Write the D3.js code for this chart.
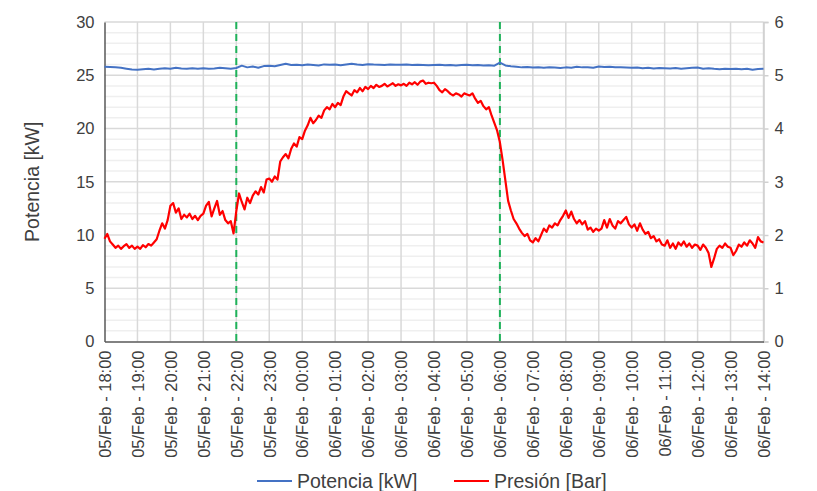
<!DOCTYPE html>
<html>
<head>
<meta charset="utf-8">
<script src="https://cdn.jsdelivr.net/npm/d3@7"></script>
<style>
  body { margin: 0; background: #fff; }
  svg text { font-family: "Liberation Sans", Arial, sans-serif; fill: #404040; }
</style>
</head>
<body>
<svg id="chart"></svg>
<script>
// time window: 05/Feb 18:00 -> 06/Feb 14:00
const startTime = new Date(2021, 1, 5, 18, 0);
const endTime = new Date(2021, 1, 6, 14, 0);
const markerTimes = [new Date(2021, 1, 5, 22, 0), new Date(2021, 1, 6, 6, 0)];

const kwTicks = [0, 5, 10, 15, 20, 25, 30];
const barTicks = [0, 1, 2, 3, 4, 5, 6];

// Potencia [kW], one reading every 10 min
const potencia = [
  25.80, 25.78, 25.74, 25.70, 25.62, 25.55,
  25.52, 25.56, 25.60, 25.55, 25.62, 25.66,
  25.62, 25.70, 25.64, 25.60, 25.66, 25.62,
  25.66, 25.60, 25.64, 25.70, 25.66, 25.62,
  25.68, 25.90, 25.74, 25.82, 25.70, 25.86,
  25.90, 25.84, 25.96, 26.08, 25.96, 25.98,
  25.94, 26.00, 25.96, 25.92, 26.02, 25.98,
  26.00, 25.94, 26.02, 26.08, 26.00, 25.96,
  26.04, 26.00, 25.98, 25.96, 26.02, 25.98,
  25.98, 26.00, 25.96, 25.98, 25.96, 25.94,
  25.96, 25.98, 25.94, 25.96, 25.92, 25.96,
  25.98, 25.94, 25.96, 25.92, 25.94, 25.90,
  26.18, 25.92, 25.84, 25.80, 25.74, 25.78,
  25.72, 25.74, 25.70, 25.76, 25.72, 25.68,
  25.74, 25.70, 25.80, 25.74, 25.76, 25.70,
  25.82, 25.78, 25.80, 25.76, 25.74, 25.72,
  25.70, 25.72, 25.66, 25.70, 25.64, 25.68,
  25.66, 25.64, 25.68, 25.62, 25.66, 25.70,
  25.72, 25.62, 25.66, 25.60, 25.56, 25.62,
  25.58, 25.62, 25.56, 25.60, 25.52, 25.58,
  25.62
];

// Presión [Bar], one reading every 5 min
const presion = [
  1.93, 2.02, 1.88, 1.82, 1.76, 1.80, 1.74, 1.79, 1.83, 1.76, 1.80, 1.74,
  1.78, 1.74, 1.81, 1.77, 1.83, 1.80, 1.86, 1.92, 2.08, 2.22, 2.12, 2.28,
  2.55, 2.60, 2.42, 2.50, 2.30, 2.38, 2.33, 2.40, 2.30, 2.36, 2.28, 2.36,
  2.40, 2.55, 2.62, 2.35, 2.50, 2.64, 2.38, 2.45, 2.28, 2.22, 2.26, 2.03,
  2.45, 2.78, 2.62, 2.48, 2.70, 2.60, 2.74, 2.82, 2.76, 2.90, 2.80, 3.04,
  3.06, 3.00, 3.10, 3.04, 3.38, 3.46, 3.52, 3.44, 3.62, 3.72, 3.66, 3.84,
  3.80, 3.96, 4.06, 4.20, 4.10, 4.16, 4.24, 4.20, 4.34, 4.40, 4.36, 4.46,
  4.40, 4.48, 4.44, 4.60, 4.70, 4.66, 4.62, 4.72, 4.68, 4.76, 4.70, 4.78,
  4.74, 4.80, 4.76, 4.82, 4.78, 4.80, 4.84, 4.79, 4.82, 4.85, 4.80, 4.83,
  4.81, 4.84, 4.80, 4.86, 4.83, 4.87, 4.82, 4.88, 4.90, 4.84, 4.86, 4.85,
  4.86, 4.80, 4.72, 4.68, 4.74, 4.70, 4.65, 4.62, 4.66, 4.64, 4.60, 4.66,
  4.64, 4.62, 4.66, 4.56, 4.48, 4.52, 4.42, 4.36, 4.40, 4.24, 4.10, 3.96,
  3.74, 3.40, 3.02, 2.64, 2.46, 2.30, 2.22, 2.12, 2.04, 1.98, 2.02, 1.90,
  1.86, 1.94, 1.88, 2.00, 2.12, 2.06, 2.18, 2.14, 2.22, 2.18, 2.28, 2.36,
  2.46, 2.32, 2.44, 2.30, 2.22, 2.28, 2.20, 2.26, 2.10, 2.14, 2.06, 2.12,
  2.08, 2.12, 2.28, 2.14, 2.30, 2.18, 2.12, 2.26, 2.22, 2.28, 2.34, 2.20,
  2.14, 2.20, 2.08, 2.22, 2.10, 2.02, 2.06, 1.94, 1.98, 1.88, 1.92, 1.82,
  1.80, 1.90, 1.76, 1.84, 1.74, 1.86, 1.80, 1.88, 1.78, 1.84, 1.76, 1.82,
  1.80, 1.72, 1.82, 1.76, 1.66, 1.40, 1.56, 1.74, 1.80, 1.76, 1.84, 1.78,
  1.76, 1.62, 1.70, 1.82, 1.78, 1.86, 1.80, 1.90, 1.84, 1.76, 1.96, 1.88,
  1.86
];

const width = 817, height = 491;
const margin = { top: 22, right: 53.5, bottom: 149.5, left: 104.5 };

const svg = d3.select('#chart').attr('width', width).attr('height', height);

const x = d3.scaleTime()
  .domain([startTime, endTime])
  .range([margin.left, width - margin.right]);

const yKw = d3.scaleLinear()
  .domain([0, 30])
  .range([height - margin.bottom, margin.top]);

const yBar = d3.scaleLinear()
  .domain([0, 6])
  .range([height - margin.bottom, margin.top]);

const hours = d3.timeHour.range(startTime, d3.timeMinute.offset(endTime, 1));
const fmt = d3.timeFormat('%d/%b - %H:%M');

// grid
svg.append('g')
  .selectAll('line')
  .data(d3.range(0, 31).filter(v => v % 5 !== 0))
  .join('line')
  .attr('x1', margin.left).attr('x2', width - margin.right)
  .attr('y1', d => yKw(d)).attr('y2', d => yKw(d))
  .attr('stroke', '#efefef').attr('stroke-width', 1.5);

svg.append('g')
  .selectAll('line')
  .data(kwTicks.slice(1))
  .join('line')
  .attr('x1', margin.left).attr('x2', width - margin.right)
  .attr('y1', d => yKw(d)).attr('y2', d => yKw(d))
  .attr('stroke', '#d9d9d9').attr('stroke-width', 1.5);

svg.append('g')
  .selectAll('line')
  .data(hours.slice(1))
  .join('line')
  .attr('x1', d => x(d)).attr('x2', d => x(d))
  .attr('y1', margin.top).attr('y2', height - margin.bottom)
  .attr('stroke', '#d9d9d9').attr('stroke-width', 1.5);

// left axis
svg.append('g')
  .attr('transform', `translate(${margin.left},0)`)
  .call(d3.axisLeft(yKw).tickValues(kwTicks).tickSize(0).tickPadding(10))
  .call(g => g.select('.domain').attr('stroke', '#595959').attr('stroke-width', 1.5))
  .call(g => g.selectAll('text').attr('font-size', 16.5).attr('fill', '#404040'));

// right axis
svg.append('g')
  .attr('transform', `translate(${width - margin.right},0)`)
  .call(d3.axisRight(yBar).tickValues(barTicks).tickFormat(d3.format('d')).tickSize(5).tickPadding(6))
  .call(g => g.select('.domain').attr('stroke', '#d0d0d0').attr('stroke-width', 1.5))
  .call(g => g.selectAll('line').attr('stroke', '#d0d0d0').attr('stroke-width', 1.5))
  .call(g => g.selectAll('text').attr('font-size', 16.5).attr('fill', '#404040'));

// bottom axis
svg.append('g')
  .attr('transform', `translate(0,${height - margin.bottom})`)
  .call(d3.axisBottom(x).tickValues(hours).tickFormat(fmt).tickSize(0).tickPadding(0))
  .call(g => g.select('.domain').attr('stroke', '#595959').attr('stroke-width', 1.5))
  .call(g => g.selectAll('text')
    .attr('font-size', 16.5)
    .attr('fill', '#404040')
    .attr('text-anchor', 'end')
    .attr('dy', '0.35em')
    .attr('transform', 'translate(0,9) rotate(-90)')
    .attr('x', 0).attr('y', 0));

// marker lines
svg.append('g')
  .selectAll('line')
  .data(markerTimes)
  .join('line')
  .attr('x1', d => x(d)).attr('x2', d => x(d))
  .attr('y1', margin.top).attr('y2', height - margin.bottom + 4)
  .attr('stroke', '#1fb35a').attr('stroke-width', 2)
  .attr('stroke-dasharray', '7,5');

// series
const lineKw = d3.line()
  .x((d, i) => x(d3.timeMinute.offset(startTime, i * 10)))
  .y(d => yKw(d));

const lineBar = d3.line()
  .x((d, i) => x(d3.timeMinute.offset(startTime, i * 5)))
  .y(d => yBar(d));

svg.append('path')
  .datum(presion)
  .attr('fill', 'none')
  .attr('stroke', '#ff0000')
  .attr('stroke-width', 2.2)
  .attr('stroke-linejoin', 'round')
  .attr('d', lineBar);

svg.append('path')
  .datum(potencia)
  .attr('fill', 'none')
  .attr('stroke', '#4472c4')
  .attr('stroke-width', 2)
  .attr('stroke-linejoin', 'round')
  .attr('d', lineKw);

// axis title
svg.append('text')
  .attr('transform', `translate(39,${(margin.top + height - margin.bottom) / 2}) rotate(-90)`)
  .attr('text-anchor', 'middle')
  .attr('font-size', 19.5)
  .text('Potencia [kW]');

// legend
const legend = [
  { name: 'Potencia [kW]', color: '#4472c4', x: 257 },
  { name: 'Presión [Bar]', color: '#ff0000', x: 454 }
];
const lg = svg.append('g').selectAll('g').data(legend).join('g')
  .attr('transform', d => `translate(${d.x},481)`);
lg.append('line')
  .attr('x1', 0).attr('x2', 35).attr('y1', 0).attr('y2', 0)
  .attr('stroke', d => d.color).attr('stroke-width', 2);
lg.append('text')
  .attr('x', 40).attr('dy', '0.35em')
  .attr('font-size', 19.5)
  .text(d => d.name);
</script>
</body>
</html>
